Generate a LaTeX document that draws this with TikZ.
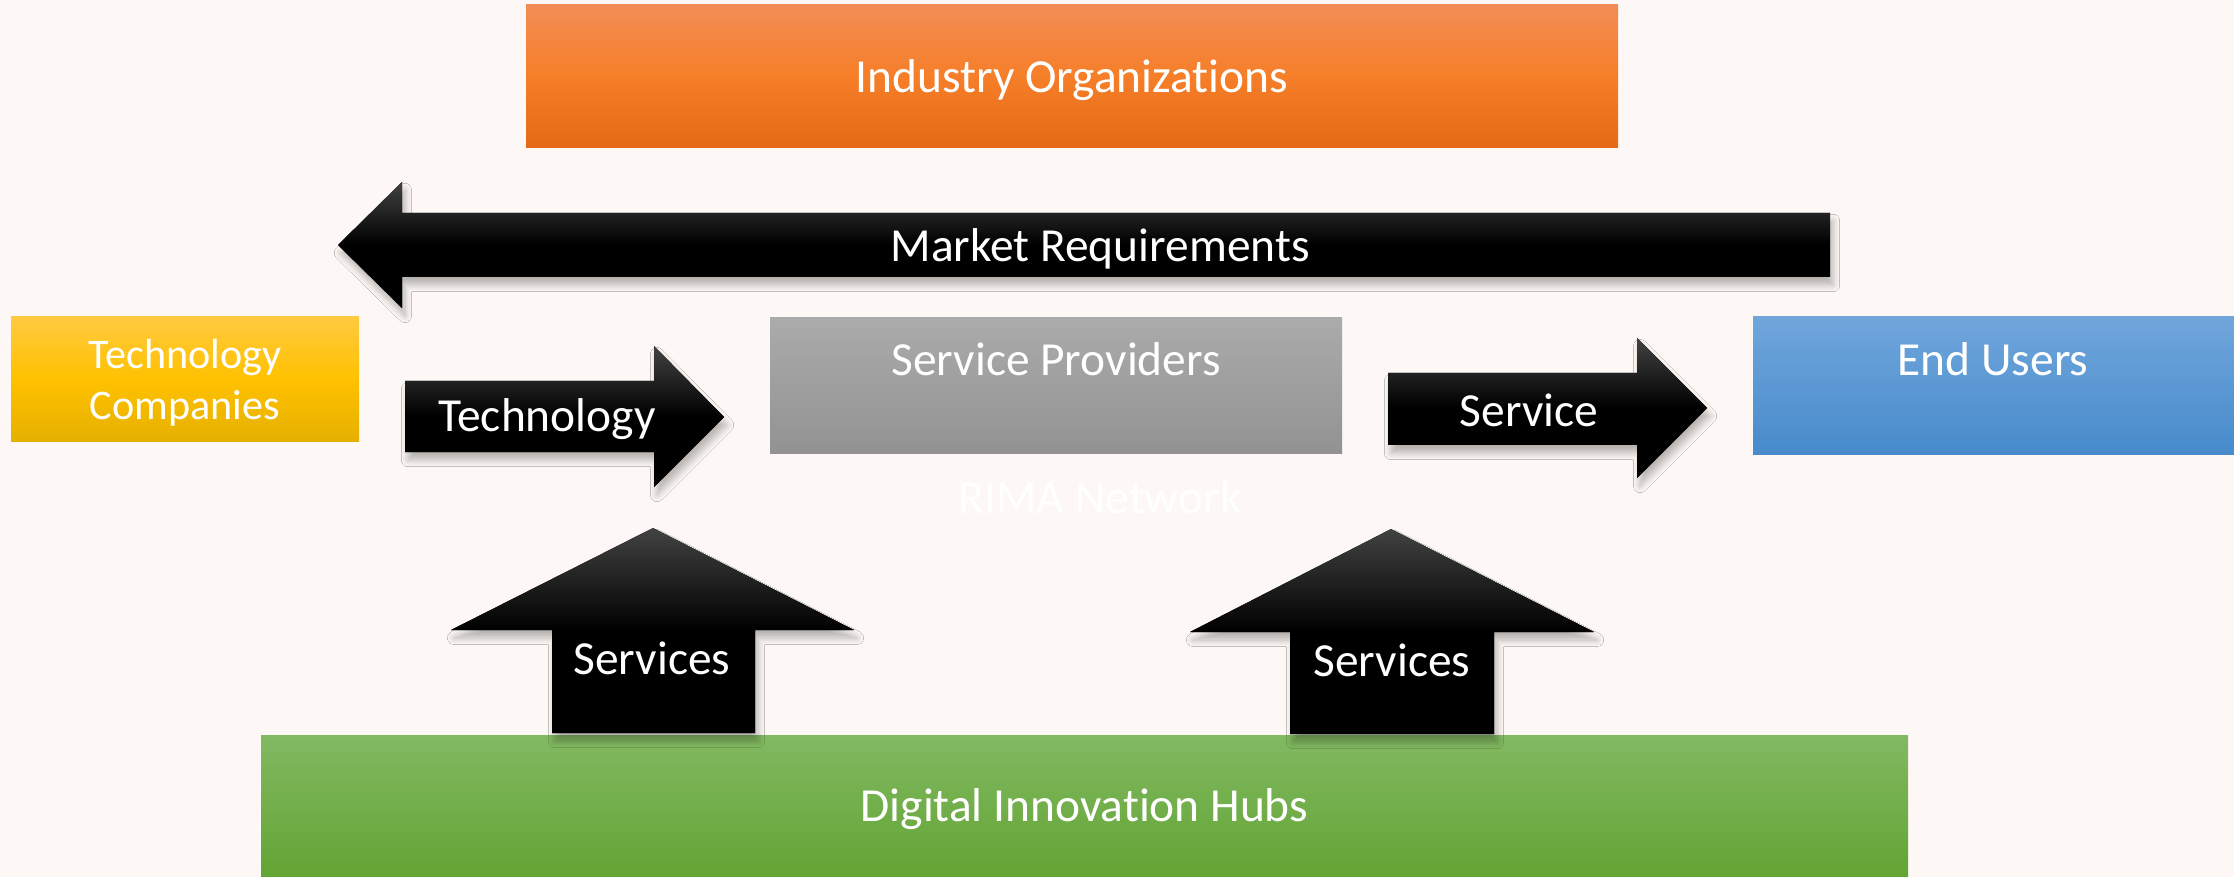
\documentclass[tikz,border=0pt]{standalone}
\usepackage{fontspec}
\setmainfont{Carlito}[Ligatures=NoCommon]
\usepackage{tikz}
\usetikzlibrary{positioning, calc, shadows.blur}

\definecolor{PageBg}{RGB}{253,248,245}
\definecolor{OrgTop}{RGB}{241,141,86}
\definecolor{OrgMid}{RGB}{246,126,40}
\definecolor{OrgBot}{RGB}{228,106,22}
\definecolor{TcTop}{RGB}{255,202,64}
\definecolor{TcMid}{RGB}{255,193,0}
\definecolor{TcBot}{RGB}{229,176,0}
\definecolor{SpTop}{RGB}{171,171,171}
\definecolor{SpBot}{RGB}{146,146,146}
\definecolor{EuTop}{RGB}{112,166,220}
\definecolor{EuBot}{RGB}{71,139,203}
\definecolor{DhTop}{RGB}{130,185,98}
\definecolor{DhBot}{RGB}{99,164,52}
\definecolor{ArrowTop}{RGB}{66,66,66}

\begin{document}
\begin{tikzpicture}[font=\fontsize{13.5}{16}\selectfont,
	box/.style={rectangle, inner sep=0pt, text=white, align=center, text depth=0pt},
	lbl/.style={text=white, inner sep=0pt, align=center, text depth=0pt},
	blockarrow/.style={top color=ArrowTop, bottom color=black, middle color=black,
		blur shadow={shadow xshift=0.3mm, shadow yshift=-0.8mm, shadow blur steps=6, shadow opacity=28}}]

	% page
	\fill[PageBg] (0,0) rectangle (22.34,8.77);
	\useasboundingbox (0,0) rectangle (22.34,8.77);

	% actors
	\node[box, top color=OrgTop, bottom color=OrgBot, middle color=OrgMid,
		minimum width=10.92cm, minimum height=1.43cm] (io) at (10.72,8.005) {Industry Organizations};
	\node[box, top color=TcTop, bottom color=TcBot, middle color=TcMid,
		minimum width=3.48cm, minimum height=1.25cm, font=\fontsize{12}{14.6}\selectfont]
		(tc) at (1.85,4.975) {Technology\\Companies};
	\node[box, top color=SpTop, bottom color=SpBot,
		minimum width=5.72cm, minimum height=1.36cm] (sp) at (10.56,4.91) {};
	\node[box, top color=EuTop, bottom color=EuBot,
		minimum width=4.81cm, minimum height=1.37cm] (eu) at (19.935,4.915) {};
	\node[box, top color=DhTop, bottom color=DhBot,
		minimum width=16.47cm, minimum height=1.41cm] (dh) at (10.845,0.715) {Digital Innovation Hubs};

	\node[lbl] (sptxt) at (10.56,5.18) {Service Providers};
	\node[lbl] (eutxt) at (19.93,5.18) {End Users};
	\node[lbl] (rima) at (11.00,3.80) {RIMA Network};

	% flows
	\fill[blockarrow] (18.30,6.64) -- (4.02,6.64) -- (4.02,6.95) -- (3.38,6.32)
		-- (4.02,5.69) -- (4.02,6.00) -- (18.30,6.00) -- cycle;
	\fill[blockarrow] (4.05,4.96) -- (6.54,4.96) -- (6.54,5.31) -- (7.24,4.60)
		-- (6.54,3.90) -- (6.54,4.25) -- (4.05,4.25) -- cycle;
	\fill[blockarrow] (13.88,5.04) -- (16.37,5.04) -- (16.37,5.39) -- (17.07,4.69)
		-- (16.37,3.99) -- (16.37,4.32) -- (13.88,4.32) -- cycle;
	\fill[blockarrow] (5.52,1.44) -- (5.52,2.47) -- (4.51,2.47) -- (6.53,3.49)
		-- (8.54,2.47) -- (7.55,2.47) -- (7.55,1.44) -- cycle;
	\fill[blockarrow] (12.90,1.43) -- (12.90,2.45) -- (11.90,2.45) -- (13.91,3.48)
		-- (15.94,2.45) -- (14.94,2.45) -- (14.94,1.43) -- cycle;

	\node[lbl] (mr) at (11.00,6.32) {Market Requirements};
	\node[lbl] (tech) at (5.47,4.62) {Technology};
	\node[lbl] (serv) at (15.29,4.67) {Service};
	\node[lbl] (s1) at (6.52,2.19) {Services};
	\node[lbl] (s2) at (13.92,2.17) {Services};
\end{tikzpicture}
\end{document}
